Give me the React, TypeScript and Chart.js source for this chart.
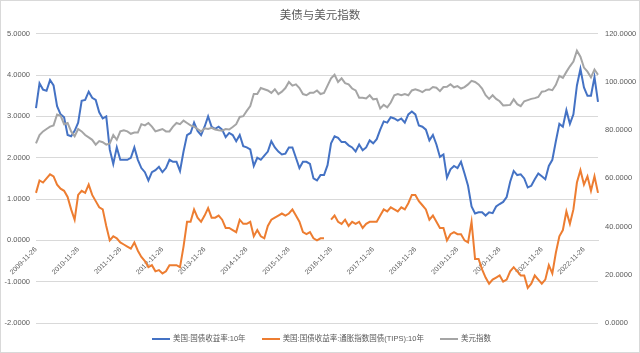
import React, { useEffect, useRef } from "react";
import { Chart, registerables } from "chart.js";

Chart.register(...registerables);

const TITLE = "美债与美元指数";
const SERIES_NAMES = [
  "美国:国债收益率:10年",
  "美国:国债收益率:通胀指数国债(TIPS):10年",
  "美元指数",
];
const SERIES_COLORS = ["#4472C4", "#ED7D31", "#A5A5A5"];

// Monthly samples (26th of each month), 2009-11 .. 2023-03
const categories: string[] = [];
for (let y = 2009, m = 11; y < 2023 || (y === 2023 && m <= 3); ) {
  categories.push(`${y}-${String(m).padStart(2, "0")}-26`);
  m++;
  if (m > 12) {
    m = 1;
    y++;
  }
}

// left axis ticks (%), right axis ticks (index)
const leftTicks = [-2, -1, 0, 1, 2, 3, 4, 5];
const rightTicks = [0, 20, 40, 60, 80, 100, 120];

// 美国:国债收益率:10年
const us10y = [
  3.2, 3.8,
  3.65, 3.62, 3.88, 3.75, 3.25, 3.05, 2.98, 2.55, 2.52, 2.65, 2.85, 3.38,
  3.4, 3.6, 3.45, 3.4, 3.1, 2.95, 3.0, 2.2, 1.85, 2.25, 1.95, 1.95,
  1.95, 2.0, 2.25, 1.95, 1.75, 1.65, 1.45, 1.65, 1.7, 1.78, 1.65, 1.75,
  1.95, 1.9, 1.9, 1.68, 2.15, 2.55, 2.6, 2.85, 2.65, 2.55, 2.75, 3.0,
  2.75, 2.7, 2.75, 2.68, 2.5, 2.6, 2.55, 2.4, 2.55, 2.28, 2.25, 2.2,
  1.8, 2.0, 1.95, 2.05, 2.15, 2.4, 2.25, 2.15, 2.08, 2.1, 2.25, 2.25,
  2.0, 1.75, 1.9, 1.9, 1.85, 1.5, 1.45, 1.58, 1.58, 1.82, 2.35, 2.52,
  2.48, 2.38, 2.38, 2.3, 2.25, 2.15, 2.32, 2.18, 2.25, 2.42, 2.35, 2.45,
  2.68, 2.88, 2.85, 2.98, 2.95, 2.9, 2.95, 2.85, 3.05, 3.12, 3.05, 2.78,
  2.75, 2.68, 2.42, 2.55, 2.32, 2.02, 2.08, 1.52, 1.72, 1.8, 1.75, 1.9,
  1.62, 1.32, 0.82, 0.65, 0.68, 0.68, 0.6, 0.68, 0.66, 0.82, 0.88, 0.93,
  1.05, 1.42, 1.68, 1.58, 1.6, 1.5, 1.28, 1.32, 1.48, 1.62, 1.55, 1.48,
  1.8, 1.95, 2.4, 2.82, 2.75, 3.15, 2.82, 3.05, 3.75, 4.15, 3.7, 3.5,
  3.5, 3.95, 3.35,
];

// 美国:国债收益率:通胀指数国债(TIPS):10年
const tips10y: (number | null)[] = [
  1.15, 1.45,
  1.4, 1.5, 1.6, 1.55, 1.35, 1.25, 1.2, 1.05, 0.75, 0.5, 1.1, 1.2,
  1.15, 1.35, 1.1, 0.95, 0.8, 0.75, 0.35, 0.0, 0.1, 0.05, -0.05, -0.1,
  -0.15, -0.2, -0.05, -0.25, -0.4, -0.5, -0.65, -0.6, -0.75, -0.72, -0.8, -0.75,
  -0.6, -0.6, -0.6, -0.65, -0.15, 0.45, 0.45, 0.75, 0.55, 0.45, 0.6, 0.78,
  0.55, 0.55, 0.6, 0.5, 0.3, 0.3, 0.25, 0.2, 0.5, 0.4, 0.4, 0.45,
  0.1, 0.25, 0.1, 0.05, 0.35, 0.5, 0.55, 0.6, 0.65, 0.6, 0.65, 0.75,
  0.6, 0.45, 0.2, 0.15, 0.2, 0.05, 0.0, 0.05, 0.05, null, 0.5, 0.6,
  0.45, 0.4, 0.5, 0.35, 0.45, 0.4, 0.45, 0.3, 0.4, 0.45, 0.45, 0.45,
  0.6, 0.75, 0.7, 0.8, 0.75, 0.7, 0.8, 0.75, 0.9, 1.1, 1.1, 0.95,
  0.85, 0.75, 0.5, 0.6, 0.45, 0.3, 0.3, 0.0, 0.15, 0.2, 0.15, 0.15,
  0.0, -0.05, 0.45, -0.45, -0.45, -0.7, -0.9, -1.05, -0.95, -0.9, -0.85, -1.0,
  -0.95, -0.75, -0.65, -0.75, -0.85, -0.85, -1.15, -1.05, -0.85, -0.95, -1.05, -0.95,
  -0.6, -0.8, -0.3, 0.1, 0.25, 0.7, 0.4, 0.75, 1.4, 1.7, 1.35, 1.55,
  1.2, 1.55, 1.15,
];

// 美元指数
const dxy = [
  74.5, 78,
  79.5, 80.5, 81.5, 82, 86.5, 86, 82.5, 83, 79.5, 77.5, 80.5, 79.5,
  78, 77, 76, 74, 75.5, 75, 74, 74.5, 78, 76, 79.5, 80,
  79.5, 78.5, 79, 79, 82.5, 82, 83, 81.5, 79.5, 80, 80.5, 79.5,
  79.5, 81.5, 83, 82.5, 84, 83, 82, 81.5, 80.5, 79.5, 80.8, 80.5,
  81, 80.3, 80, 79.8, 80.5, 80.3, 81.3, 82.5, 85.5, 85.8, 88, 90,
  95, 95, 97.5, 97, 96.5, 95.5, 97, 95, 96, 97.5, 100, 98.5,
  99, 97.5, 95, 94.5, 95.5, 95.5, 96.5, 95, 95.5, 98.5, 101.5, 103,
  100, 101.5, 99.5, 99, 97.3, 96.5, 93.5, 93.5, 93.2, 94.5, 92.8, 93,
  89, 90.5, 89.5, 91.5, 94.5, 95, 94.5, 95, 94.5, 96.5, 97, 96.5,
  95.8, 96.8, 96.8, 97.9, 97.6, 96.2, 97.9, 98, 99.1, 97.8, 98.3, 97.3,
  97.9, 99, 100.5, 100, 99, 97.3, 94.5, 93, 94.5, 93, 92, 90.3,
  90.4, 90.5, 92.8, 90.8, 90, 92, 92.5, 93, 93.3, 93.8, 96, 96.2,
  97, 96.6, 98.8, 102.5, 101.7, 104.2, 106.5, 108.5, 113, 110.5, 106, 104.3,
  101.9, 105.2, 103,
];

const FONT = '"Liberation Sans", "Noto Sans CJK SC", sans-serif';
const TEXT_COLOR = "#595959";
const GRID_COLOR = "#d9d9d9";

export default function App() {
  const canvasRef = useRef<HTMLCanvasElement | null>(null);

  useEffect(() => {
    document.body.style.margin = "0";
    const canvas = canvasRef.current;
    if (!canvas) return;
    const chart = new Chart(canvas, {
      type: "line",
      data: {
        labels: categories,
        datasets: [
          {
            label: SERIES_NAMES[0],
            data: us10y,
            borderColor: SERIES_COLORS[0],
            backgroundColor: SERIES_COLORS[0],
            yAxisID: "y",
            order: 1,
          },
          {
            label: SERIES_NAMES[1],
            data: tips10y,
            borderColor: SERIES_COLORS[1],
            backgroundColor: SERIES_COLORS[1],
            yAxisID: "y",
            order: 2,
          },
          {
            label: SERIES_NAMES[2],
            data: dxy,
            borderColor: SERIES_COLORS[2],
            backgroundColor: SERIES_COLORS[2],
            yAxisID: "y1",
            order: 0,
          },
        ],
      },
      options: {
        animation: false,
        responsive: false,
        devicePixelRatio: 1,
        spanGaps: false,
        layout: { padding: { left: 0, right: 0, top: 0, bottom: 30 } },
        elements: {
          point: { radius: 0 },
          line: { borderWidth: 2, tension: 0 },
        },
        scales: {
          x: {
            type: "category",
            position: { y: 0 } as any,
            grid: { display: false, drawTicks: false },
            border: { display: true, color: GRID_COLOR },
            ticks: {
              autoSkip: false,
              minRotation: 45,
              maxRotation: 45,
              padding: 5,
              color: TEXT_COLOR,
              font: { size: 7, family: FONT },
              callback: (_v: any, i: number) => (i % 12 === 0 ? categories[i] : ""),
            },
          },
          y: {
            position: "left",
            min: leftTicks[0],
            max: leftTicks[leftTicks.length - 1],
            grid: { color: GRID_COLOR, drawTicks: false },
            border: { display: false },
            ticks: {
              stepSize: 1,
              padding: 6,
              color: TEXT_COLOR,
              font: { size: 7.5, family: FONT },
              callback: (v: any) => Number(v).toFixed(4),
            },
            afterFit: (s: any) => {
              s.width = 36;
            },
          },
          y1: {
            position: "right",
            min: rightTicks[0],
            max: rightTicks[rightTicks.length - 1],
            grid: { drawOnChartArea: false, drawTicks: false },
            border: { display: false },
            ticks: {
              stepSize: 20,
              padding: 7,
              color: TEXT_COLOR,
              font: { size: 7.5, family: FONT },
              callback: (v: any) => Number(v).toFixed(4),
            },
            afterFit: (s: any) => {
              s.width = 42;
            },
          },
        },
        plugins: {
          title: {
            display: true,
            text: TITLE,
            color: TEXT_COLOR,
            font: { size: 11.5, family: FONT, weight: "normal" },
            padding: { top: 9, bottom: 11 },
          },
          legend: { display: false },
          tooltip: { enabled: false },
        },
      },
    });
    return () => chart.destroy();
  }, []);

  const legendItem = (i: number) => (
    <div key={i} style={{ display: "flex", alignItems: "center", marginRight: i < 2 ? 16 : 0 }}>
      <div style={{ width: 18, height: 2, background: SERIES_COLORS[i], marginRight: 3 }} />
      <span>{SERIES_NAMES[i]}</span>
    </div>
  );

  return (
    <div style={{ position: "relative", width: 640, height: 353, background: "#fff" }}>
      <canvas ref={canvasRef} width={640} height={353} style={{ display: "block" }} />
      <div
        style={{
          position: "absolute",
          left: 0,
          right: 0,
          top: 333,
          height: 12,
          display: "flex",
          justifyContent: "center",
          alignItems: "center",
          fontFamily: FONT,
          fontSize: 7.5,
          color: TEXT_COLOR,
          lineHeight: "12px",
          paddingLeft: 3,
        }}
      >
        {legendItem(0)}
        {legendItem(1)}
        {legendItem(2)}
      </div>
      <div
        style={{
          position: "absolute",
          inset: 0,
          border: `1px solid ${GRID_COLOR}`,
          boxSizing: "border-box",
          pointerEvents: "none",
        }}
      />
    </div>
  );
}
